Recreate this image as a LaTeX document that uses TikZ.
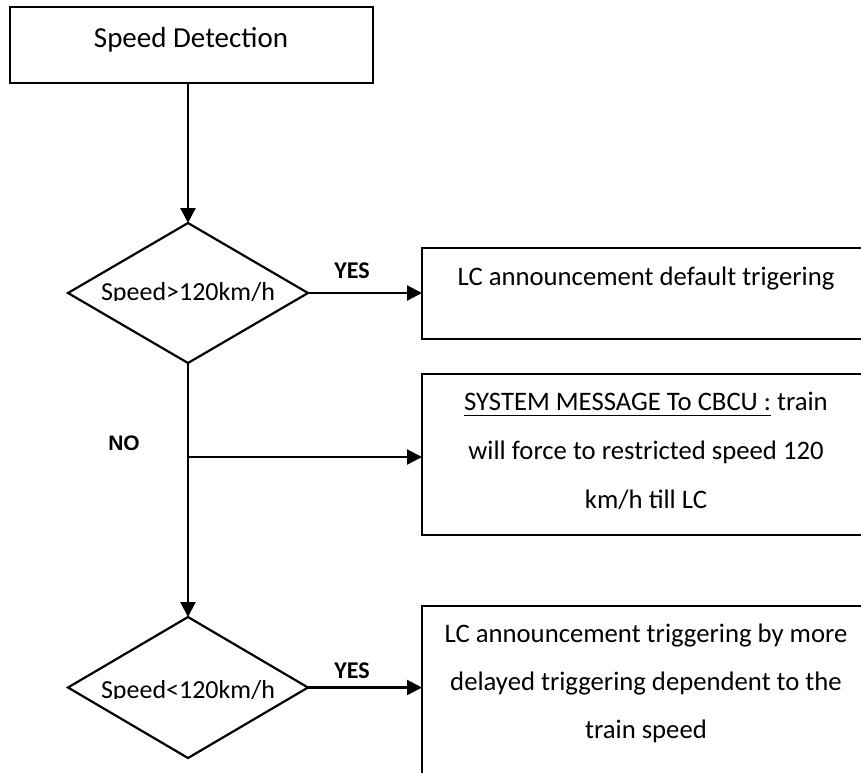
\documentclass[tikz,border=0pt]{standalone}
\usepackage{fontspec}
\setmainfont{Carlito}
\newfontfamily\labelsans{Liberation Sans}
\usetikzlibrary{shapes.geometric,arrows.meta}

% underline drawn a little below the baseline
\newcommand\ulined[1]{\setbox0\hbox{#1}\rlap{\rule[-6pt]{\wd0}{1.5pt}}\box0\relax}

\begin{document}
\begin{tikzpicture}[x=1pt,y=-1pt,
  line width=2.2pt,
  procbox/.style={draw, rectangle, inner sep=0pt, outer sep=0pt},
  decision/.style={draw, diamond, inner sep=0pt, outer sep=0pt,
    minimum width=240pt, minimum height=140pt},
  boxtext/.style={inner sep=0pt, anchor=base, font=\fontsize{26.7}{30}\selectfont},
  yeslabel/.style={inner sep=0pt, anchor=base, font=\fontsize{24}{28}\selectfont\bfseries},
  arr/.style={-{Triangle[length=15pt,width=15pt]}}]

\useasboundingbox (0,0) rectangle (861,772);
\clip (0,0) rectangle (861,772);

% process boxes
\node[procbox, minimum width=363pt, minimum height=76pt] (start) at (191.5,45) {};
\node[boxtext, font=\fontsize{29}{32}\selectfont] (startlbl) at (191,47) {Speed Detection};

\node[procbox, minimum width=458pt, minimum height=91pt] (def) at (651,293.5) {};
\node[boxtext] (deflbl) at (646,285) {LC announcement default trigering};

\node[procbox, minimum width=458pt, minimum height=161pt] (msg) at (651,454.5) {};
\node[boxtext] (msg1) at (646,410) {\ulined{SYSTEM MESSAGE To CBCU :} train};
\node[boxtext] (msg2) at (646,459) {will force to restricted speed 120};
\node[boxtext] (msg3) at (646,508) {km/h till LC};

\node[procbox, minimum width=458pt, minimum height=204pt] (del) at (651,708) {};
\node[boxtext] (del1) at (646,642) {LC announcement triggering by more};
\node[boxtext] (del2) at (646,690) {delayed triggering dependent to the};
\node[boxtext] (del3) at (646,738) {train speed};

% decisions
\node[decision] (d1) at (188,293) {};
\node[decision, minimum height=141pt] (d2) at (188,687.5) {};

\begin{scope}
  \clip (60,250) rectangle (320,300);
  \node[boxtext, font=\fontsize{26}{30}\selectfont] (d1lbl) at (188,300.5) {Speed>120km/h};
\end{scope}
\begin{scope}
  \clip (60,650) rectangle (320,698);
  \node[boxtext, font=\fontsize{26}{30}\selectfont] (d2lbl) at (188,698.5) {Speed<120km/h};
\end{scope}

% branch labels
\node[yeslabel] (yes1) at (352,278) {YES};
\node[yeslabel] (yes2) at (352,678) {YES};
\node[inner sep=0pt, anchor=base, font=\fontsize{21}{24}\selectfont\labelsans\bfseries] (no) at (124,450) {NO};

% connectors
\coordinate (branch) at (188,457);
\draw[arr] (d1.north |- start.south) -- (d1.north);
\draw[arr] (d1.east) -- (d1.east -| def.west);
\draw[arr] (d1.south) -- (d2.north);
\draw[arr] (branch) -- (branch -| msg.west);
\draw[arr] (d2.east) -- (d2.east -| del.west);
\end{tikzpicture}
\end{document}
